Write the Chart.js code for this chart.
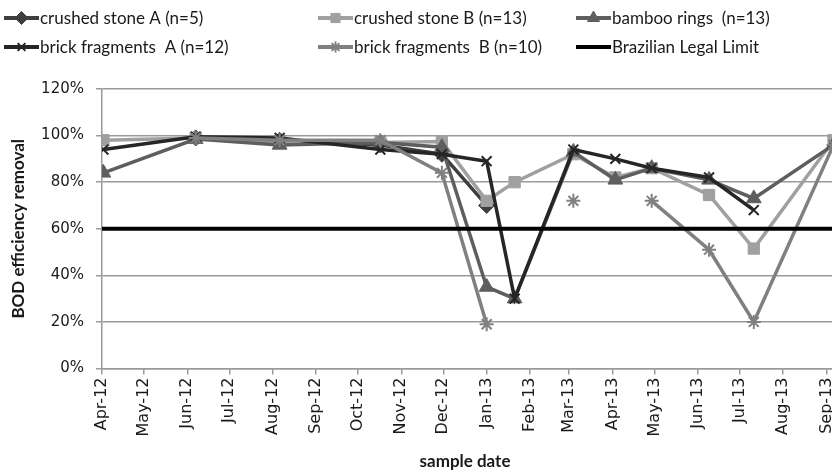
<!DOCTYPE html>
<html>
<head>
<meta charset="utf-8">
<script src="https://cdn.jsdelivr.net/npm/chart.js@4"></script>
<style>
  html, body { margin: 0; padding: 0; background: #fff; overflow: hidden; }
  #wrap { position: relative; width: 878px; height: 473px; }
</style>
</head>
<body>
<div id="wrap"><canvas id="bodChart"></canvas></div>
<script>
// sample dates and BOD removal (%) per system
const sampleDates = ['2012-04-02', '2012-06-07', '2012-08-06', '2012-10-17', '2012-11-30', '2013-01-01', '2013-01-21',
  '2013-03-04', '2013-04-03', '2013-04-29', '2013-06-09', '2013-07-11', '2013-09-06'];
const crushedStoneA = [null, 99, 98, 96, 92, 70, null, null, null, null, null, null, null];
const crushedStoneB = [98, 99, 97, 97, 97.5, 72, 80, 92, 82, 86, 74.5, 51.5, 98];
const bambooRings = [84, 98.5, 96, 97, 95, 35, 30, 93, 81, 86, 81, 73, 96];
const brickFragmentsA = [94, 99.5, 99, 94, 92, 89, 30, 94, 90, 86, 82, 68, null];
const brickFragmentsB = [null, 99, 98, 98, 84, 19, null, 72, null, 72, 51, 20, 96];
const legalLimit = 60;

const monthLabels = ['Apr-12', 'May-12', 'Jun-12', 'Jul-12', 'Aug-12', 'Sep-12', 'Oct-12', 'Nov-12', 'Dec-12',
  'Jan-13', 'Feb-13', 'Mar-13', 'Apr-13', 'May-13', 'Jun-13', 'Jul-13', 'Aug-13', 'Sep-13'];
const seriesNames = ['crushed stone A (n=5)', 'crushed stone B (n=13)', 'bamboo rings  (n=13)',
  'brick fragments  A (n=12)', 'brick fragments  B (n=10)', 'Brazilian Legal Limit'];

// no date adapter here, so the x axis counts days from 1 Apr 2012
const dayZero = Date.UTC(2012, 3, 1);
function toDay(s) {
  const [y, m, d] = s.split('-').map(Number);
  return (Date.UTC(y, m - 1, d) - dayZero) / 86400000;
}
const sampleDays = sampleDates.map(toDay);
const monthDays = monthLabels.map((_, i) => (Date.UTC(2012, 3 + i, 1) - dayZero) / 86400000);
const xMax = toDay('2013-10-01');

function points(values) {
  return values.map((v, i) => ({ x: sampleDays[i], y: v }));
}

function series(label, values, color, style, radius, order) {
  return {
    label: label,
    data: points(values),
    borderColor: color,
    backgroundColor: color,
    borderWidth: 3.5,
    pointStyle: style,
    pointRadius: radius,
    pointBorderWidth: style === 'crossRot' || style === 'star' ? 2 : 1,
    pointBorderColor: color,
    pointBackgroundColor: color,
    tension: 0,
    spanGaps: false,
    order: order
  };
}

const datasets = [
  series(seriesNames[0], crushedStoneA, '#3f3f3f', 'rectRot', 8, 6),
  series(seriesNames[1], crushedStoneB, '#a0a0a0', 'rect', 8, 5),
  series(seriesNames[2], bambooRings, '#5e5e5e', 'triangle', 8.5, 4),
  series(seriesNames[3], brickFragmentsA, '#262626', 'crossRot', 7, 3),
  series(seriesNames[4], brickFragmentsB, '#808080', 'star', 7, 2),
  {
    label: seriesNames[5],
    data: [{ x: 0, y: legalLimit }, { x: xMax, y: legalLimit }],
    borderColor: '#000',
    borderWidth: 4,
    pointRadius: 0,
    tension: 0,
    order: 1
  }
];

const textFont = 'Lato, "Open Sans", sans-serif';

// legend in a 3-column grid plus the x axis title, as in the spreadsheet figure
const extras = {
  id: 'extras',
  afterDraw(chart) {
    const ctx = chart.ctx;
    const colX = [4, 318, 576];
    const rowY = [18, 47];
    ctx.save();
    chart.data.datasets.forEach((ds, i) => {
      const x = colX[i % 3];
      const y = rowY[Math.floor(i / 3)];
      ctx.strokeStyle = ds.borderColor;
      ctx.lineWidth = 4;
      ctx.beginPath();
      ctx.moveTo(x, y);
      ctx.lineTo(x + 35, y);
      ctx.stroke();
      if (ds.pointRadius) {
        ctx.fillStyle = ds.borderColor;
        ctx.lineWidth = ds.pointBorderWidth;
        Chart.helpers.drawPoint(ctx, {
          pointStyle: ds.pointStyle,
          radius: ds.pointRadius - 1.5,
          borderWidth: ds.pointBorderWidth,
          rotation: 0
        }, x + 17.5, y);
      }
      ctx.fillStyle = '#1a1a1a';
      ctx.font = '17px ' + textFont;
      ctx.textBaseline = 'middle';
      ctx.textAlign = 'left';
      ctx.fillText(ds.label, x + 36, y + 1);
    });
    ctx.font = 'bold 17px ' + textFont;
    ctx.textAlign = 'center';
    ctx.fillText('sample date', 465, 462);
    ctx.restore();
  }
};

new Chart(document.getElementById('bodChart'), {
  type: 'line',
  data: { datasets: datasets },
  options: {
    responsive: true,
    maintainAspectRatio: false,
    animation: false,
    layout: { padding: { top: 89, left: 0, right: 0, bottom: 0 } },
    scales: {
      x: {
        type: 'linear',
        min: 0,
        max: xMax,
        afterBuildTicks: (scale) => {
          scale.ticks = monthDays.map(v => ({ value: v }));
        },
        afterFit: (scale) => {
          scale.height = 104.5;
          scale.paddingLeft = 0;
          scale.paddingRight = 0;
        },
        ticks: {
          autoSkip: false,
          minRotation: 90,
          maxRotation: 90,
          padding: 3,
          color: '#1a1a1a',
          font: { family: '"DejaVu Sans"', size: 16 },
          callback: (value, index) => monthLabels[index]
        },
        grid: {
          drawOnChartArea: false,
          drawTicks: true,
          tickLength: 6,
          color: '#9a9a9a',
          lineWidth: 1.5
        },
        border: { color: '#9a9a9a', width: 1.5 }
      },
      y: {
        min: 0,
        max: 120,
        afterFit: (scale) => {
          scale.width = 102;
          scale.paddingTop = 0;
          scale.paddingBottom = 0;
        },
        ticks: {
          stepSize: 20,
          padding: 12,
          color: '#1a1a1a',
          font: { family: '"DejaVu Sans"', size: 15 },
          callback: (v) => v + '%'
        },
        grid: {
          color: '#9a9a9a',
          lineWidth: 1.5,
          tickLength: 6
        },
        border: { color: '#9a9a9a', width: 1.5 },
        title: {
          display: true,
          text: 'BOD efficiency removal',
          color: '#1a1a1a',
          font: { family: textFont, size: 17, weight: 'bold' },
          padding: { top: 8, bottom: 0 }
        }
      }
    },
    plugins: {
      legend: { display: false },
      tooltip: { enabled: false }
    }
  },
  plugins: [extras]
});
</script>
</body>
</html>
